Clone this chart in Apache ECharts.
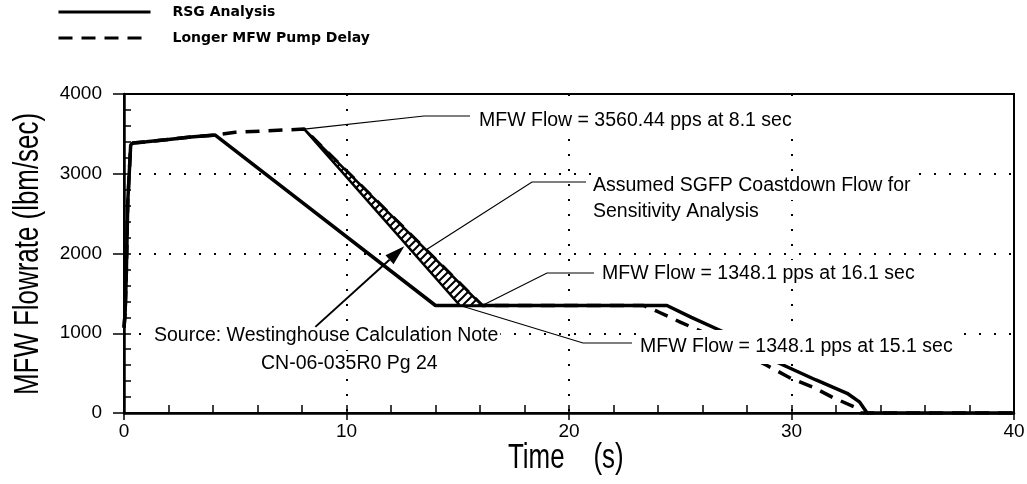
<!DOCTYPE html>
<html>
<head>
<meta charset="utf-8">
<script src="https://cdn.jsdelivr.net/npm/echarts/dist/echarts.min.js"></script>
<style>
  html, body { margin: 0; padding: 0; background: #fff; }
  #chart { width: 1027px; height: 484px; }
</style>
</head>
<body>
<div id="chart"></div>
<script>
// RSG analysis curve (time s, flow lbm/sec)
const timeRsg = [0, 0.05, 0.1, 0.17, 0.3, 0.4, 1, 2, 3, 4.1, 14, 24.4, 25.5, 26.85, 29.3, 31.1, 32.5, 33.05, 33.4, 40];
const flowRsg = [1070, 1250, 1700, 2650, 3360, 3385, 3400, 3430, 3460, 3485, 1348, 1348, 1200, 1028, 643, 414, 247, 140, 0, 0];

// longer pump delay curve
const timeDelay = [0, 0.05, 0.1, 0.17, 0.3, 0.4, 1, 2, 3, 4.1, 5, 8.1, 16.1, 23.35, 24, 25, 26, 28.9, 29.9, 31, 31.85, 32.8, 33.1, 40];
const flowDelay = [1070, 1250, 1700, 2650, 3360, 3385, 3400, 3430, 3460, 3485, 3520, 3560, 1348, 1348, 1270, 1140, 1016, 596, 445, 320, 195, 80, 0, 0];

// assumed SGFP coastdown band (hatched)
const bandTime = [8.1, 15.1, 16.1];
const bandFlow = [3560, 1348, 1348];

const xTicks = [0, 10, 20, 30, 40];
const yTicks = [0, 1000, 2000, 3000, 4000];

const seriesNames = ['RSG Analysis', 'Longer MFW Pump Delay'];
const xName = 'Time    (s)';
const yName = 'MFW Flowrate (lbm/sec)';

const arial = '"Liberation Sans", Arial, sans-serif';

const zip = (xs, ys) => xs.map((x, i) => [x, ys[i]]);

// hatch pattern for the band
function makeHatch() {
  const c = document.createElement('canvas');
  c.width = 8; c.height = 8;
  const g = c.getContext('2d');
  g.fillStyle = '#fff';
  g.fillRect(0, 0, 8, 8);
  g.strokeStyle = '#000';
  g.lineWidth = 2;
  g.beginPath();
  g.moveTo(-2, 10); g.lineTo(10, -2);
  g.moveTo(-2, 2); g.lineTo(2, -2);
  g.moveTo(6, 10); g.lineTo(10, 6);
  g.stroke();
  return c;
}
const hatch = makeHatch();

const chart = echarts.init(document.getElementById('chart'));

const option = {
  backgroundColor: '#fff',
  animation: false,
  grid: {
    left: 124, right: 13, top: 94, bottom: 71,
    show: true, borderColor: '#000', borderWidth: 2,
    outerBoundsMode: 'none'
  },
  legend: {
    orient: 'vertical',
    left: 52, top: 0,
    itemWidth: 92, itemHeight: 14, itemGap: 12,
    selectedMode: false,
    data: seriesNames,
    itemStyle: { opacity: 0 },
    lineStyle: { width: 3 },
    textStyle: {
      color: '#000', fontFamily: '"DejaVu Sans", sans-serif',
      fontWeight: 'bold', fontSize: 14, padding: [0, 0, 0, 17]
    }
  },
  xAxis: [
    {
      type: 'value', min: xTicks[0], max: xTicks[xTicks.length - 1], interval: 10,
      position: 'bottom',
      axisLine: { onZero: false, lineStyle: { color: '#000', width: 2.5 } },
      axisTick: { inside: false, length: 7, lineStyle: { color: '#000', width: 1.5 } },
      axisLabel: { color: '#000', fontFamily: arial, fontSize: 19, margin: 9, showMinLabel: true, showMaxLabel: true },
      splitLine: { show: true, lineStyle: { color: '#000', width: 2, type: [2, 13] } }
    },
    {
      type: 'value', min: 0, max: 40, interval: 2, position: 'bottom',
      axisLine: { show: false },
      axisTick: { show: true, inside: true, length: 8, lineStyle: { color: '#000', width: 1.5 } },
      axisLabel: { show: false },
      splitLine: { show: false }
    }
  ],
  yAxis: [
    {
      type: 'value', min: yTicks[0], max: yTicks[yTicks.length - 1], interval: 1000,
      position: 'left',
      axisLine: { onZero: false, lineStyle: { color: '#000', width: 2.5 } },
      axisTick: { inside: false, length: 11, lineStyle: { color: '#000', width: 1.5 } },
      axisLabel: {
        color: '#000', fontFamily: arial, fontSize: 19, margin: 22,
        showMinLabel: true, showMaxLabel: true, formatter: v => String(v)
      },
      splitLine: { show: true, lineStyle: { color: '#000', width: 2, type: [2, 13] } }
    },
    {
      type: 'value', min: 0, max: 4000, interval: 200, position: 'left',
      axisLine: { show: false },
      axisTick: { show: true, inside: true, length: 7, lineStyle: { color: '#000', width: 1.5 } },
      axisLabel: { show: false },
      splitLine: { show: false }
    }
  ],
  series: [
    {
      name: seriesNames[0], type: 'line', xAxisIndex: 0, yAxisIndex: 0,
      data: zip(timeRsg, flowRsg),
      symbol: 'none', showSymbol: false,
      lineStyle: { color: '#000', width: 3.5 },
      itemStyle: { color: '#000' },
      z: 4
    },
    {
      name: seriesNames[1], type: 'line', xAxisIndex: 0, yAxisIndex: 0,
      data: zip(timeDelay, flowDelay),
      symbol: 'none', showSymbol: false,
      lineStyle: { color: '#000', width: 3.5, type: [14, 9] },
      itemStyle: { color: '#000' },
      z: 4
    },
    {
      type: 'custom', xAxisIndex: 0, yAxisIndex: 0,
      data: zip(bandTime, bandFlow),
      renderItem: (params, api) => {
        if (params.dataIndex !== 0) return;
        const pts = bandTime.map((t, i) => api.coord([t, bandFlow[i]]));
        return {
          type: 'polygon',
          shape: { points: pts },
          style: { fill: { image: hatch, repeat: 'repeat' }, stroke: '#000', lineWidth: 2.5 }
        };
      },
      z: 5
    }
  ]
};

chart.setOption(option);

// annotations: leaders anchored on data points, text placed in pixels
const px = p => chart.convertToPixel({ gridIndex: 0 }, p);

const leader = pts => ({
  type: 'polyline', z: 120,
  shape: { points: pts },
  style: { stroke: '#000', lineWidth: 1.2, fill: null }
});

const label = (text, x, y, pad) => ({
  type: 'text', z: 110,
  style: {
    text, x, y,
    font: '19.5px ' + arial, fill: '#000',
    align: 'left', verticalAlign: 'middle',
    backgroundColor: '#fff', padding: pad || [4, 2]
  }
});

// condensed axis titles
const axisTitle = (text, x, y, rotation, align) => ({
  type: 'text', z: 50,
  x, y, rotation, scaleX: 0.74,
  style: {
    text, x: 0, y: 0,
    font: '35px ' + arial, fill: '#000',
    align, verticalAlign: 'middle'
  }
});

const tail = px([8.6, 1080]);
const tip = px([12.6, 2090]);
const dx = tip[0] - tail[0], dy = tip[1] - tail[1];
const len = Math.sqrt(dx * dx + dy * dy);
const ux = dx / len, uy = dy / len;
const base = [tip[0] - 20 * ux, tip[1] - 20 * uy];
const head = [
  tip,
  [base[0] - 6 * uy, base[1] + 6 * ux],
  [base[0] + 6 * uy, base[1] - 6 * ux]
];

chart.setOption({
  graphic: [
    axisTitle(yName, 28, 254, Math.PI / 2, 'center'),
    axisTitle(xName, 508, 458, 0, 'left'),
    label('MFW Flow = 3560.44 pps at 8.1 sec', 477, 121),
    label('Assumed SGFP Coastdown Flow for', 591, 186),
    label('Sensitivity Analysis', 591, 212),
    label('MFW Flow = 1348.1 pps at 16.1 sec', 600, 274),
    label('MFW Flow = 1348.1 pps at 15.1 sec', 637, 347, [7, 3]),
    label('Source: Westinghouse Calculation Note', 152, 336, [4, 2]),
    label('CN-06-035R0 Pg 24', 259, 364, [3, 2]),
    leader([px([8.1, 3560]), [424, 116], [470, 116]]),
    leader([px([13.6, 2050]), [532, 182], [586, 182]]),
    leader([px([16.1, 1348]), [547, 273], [594, 273]]),
    leader([px([15.1, 1348]), [583, 343], [632, 343]]),
    {
      type: 'line', z: 120,
      shape: { x1: tail[0], y1: tail[1], x2: base[0], y2: base[1] },
      style: { stroke: '#000', lineWidth: 2 }
    },
    {
      type: 'polygon', z: 120,
      shape: { points: head },
      style: { fill: '#000' }
    }
  ]
});
</script>
</body>
</html>
